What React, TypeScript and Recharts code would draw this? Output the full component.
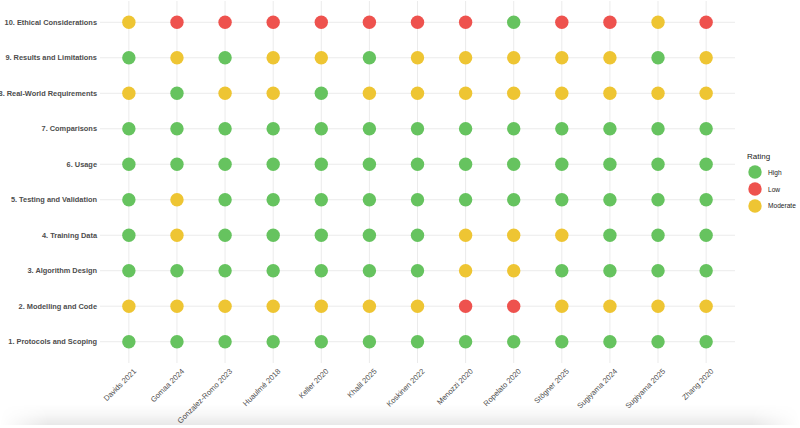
import React from "react";
import { ScatterChart, Scatter, XAxis, YAxis, ReferenceLine } from "recharts";

const studies = [
  "Davids 2021",
  "Gomaa 2024",
  "Gonzalez-Romo 2023",
  "Huaulmé 2018",
  "Keller 2020",
  "Khalil 2025",
  "Koskinen 2022",
  "Menozzi 2020",
  "Ropelato 2020",
  "Stögner 2025",
  "Sugiyama 2024",
  "Sugiyama 2025",
  "Zhang 2020",
];

const criteria = [
  "1. Protocols and Scoping",
  "2. Modelling and Code",
  "3. Algorithm Design",
  "4. Training Data",
  "5. Testing and Validation",
  "6. Usage",
  "7. Comparisons",
  "8. Real-World Requirements",
  "9. Results and Limitations",
  "10. Ethical Considerations",
];

// H = High, L = Low, M = Moderate; one string per criterion, one letter per study
const ratings = [
  "HHHHHHHHHHHHH",
  "MMMMMMMLLMMMM",
  "HHHHHHHMMHHHH",
  "HMHHHHHMMMHHH",
  "HMHHHHHHHHHHH",
  "HHHHHHHHHHHHH",
  "HHHHHHHHHHHHH",
  "MHMMHMMMMMMMM",
  "HMHMMHMMMMMHM",
  "MLLLLLLLHLLML",
];

const levels = [
  { key: "H", name: "High", color: "#66C35F" },
  { key: "L", name: "Low", color: "#EE524E" },
  { key: "M", name: "Moderate", color: "#EEC533" },
];

const points = criteria.flatMap((c, ci) =>
  studies.map((s, si) => ({ x: si + 1, y: ci + 1, rating: ratings[ci][si] }))
);

const font = "'Liberation Sans', Arial, Helvetica, sans-serif";

const YTick = (props: any) => {
  const { x, y, payload } = props;
  return (
    <text
      x={x}
      y={y}
      dy="0.35em"
      textAnchor="end"
      fontSize={7.4}
      fontWeight="bold"
      fontFamily={font}
      fill="#4D4D4D"
    >
      {criteria[payload.value - 1]}
    </text>
  );
};

const XTick = (props: any) => {
  const { x, y, payload } = props;
  return (
    <text
      transform={`translate(${x + 4},${y + 3}) rotate(-45)`}
      textAnchor="end"
      dy="0.7em"
      fontSize={7.6}
      fontFamily={font}
      fill="#4D4D4D"
    >
      {studies[payload.value - 1]}
    </text>
  );
};

const RatingLegend = () => (
  <div
    style={{
      position: "absolute",
      left: 747,
      top: 152,
      fontFamily: font,
    }}
  >
    <div style={{ fontSize: 8, color: "#1a1a1a", marginBottom: 3 }}>Rating</div>
    {levels.map((l) => (
      <div
        key={l.key}
        style={{ display: "flex", alignItems: "center", height: 16.7 }}
      >
        <svg width={17} height={16}>
          <circle cx={8} cy={8} r={6.7} fill={l.color} />
        </svg>
        <span style={{ fontSize: 6.6, color: "#1a1a1a", marginLeft: 4 }}>
          {l.name}
        </span>
      </div>
    ))}
  </div>
);

export default function App() {
  return (
    <div
      style={{
        position: "fixed",
        left: 0,
        top: 0,
        width: 800,
        height: 428,
        background: "#fff",
        overflow: "hidden",
      }}
    >
      <ScatterChart
        width={800}
        height={428}
        margin={{ top: 1, right: 65, bottom: 0, left: 0 }}
      >
        <XAxis
          type="number"
          dataKey="x"
          domain={[0.4, studies.length + 0.6]}
          ticks={studies.map((_, i) => i + 1)}
          tick={<XTick />}
          tickLine={false}
          axisLine={false}
          tickSize={0}
          interval={0}
          height={65}
        />
        <YAxis
          type="number"
          dataKey="y"
          domain={[0.4, criteria.length + 0.6]}
          ticks={criteria.map((_, i) => i + 1)}
          tick={<YTick />}
          tickLine={false}
          axisLine={false}
          tickSize={0}
          tickMargin={3}
          interval={0}
          width={100}
        />
        {/* grid */}
        {criteria.map((_, i) => (
          <ReferenceLine key={"h" + i} y={i + 1} stroke="#EBEBEB" strokeWidth={1} />
        ))}
        {studies.map((_, i) => (
          <ReferenceLine key={"v" + i} x={i + 1} stroke="#EBEBEB" strokeWidth={1} />
        ))}
        {levels.map((l) => (
          <Scatter
            key={l.key}
            name={l.name}
            data={points.filter((p) => p.rating === l.key)}
            fill={l.color}
            isAnimationActive={false}
            shape={(p: any) => (
              <circle cx={p.cx} cy={p.cy} r={6.7} fill={l.color} />
            )}
          />
        ))}
      </ScatterChart>
      <RatingLegend />
      <div
        style={{
          position: "absolute",
          left: 0,
          top: 404,
          width: 800,
          height: 21,
          background:
            "linear-gradient(to bottom, rgba(0,0,0,0) 0%, rgba(0,0,0,0.03) 50%, rgba(0,0,0,0.09) 100%)",
          WebkitMaskImage:
            "linear-gradient(to right, transparent 0%, #000 6%, #000 94%, transparent 100%)",
          maskImage:
            "linear-gradient(to right, transparent 0%, #000 6%, #000 94%, transparent 100%)",
        }}
      />
    </div>
  );
}
